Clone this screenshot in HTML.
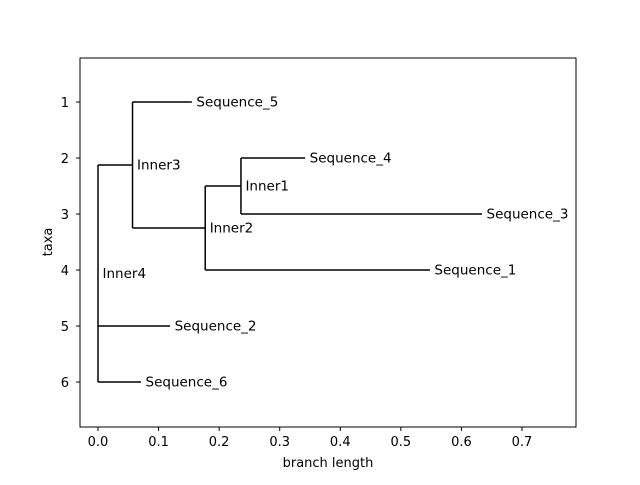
<!DOCTYPE html>
<html><head><meta charset="utf-8"><style>
body{margin:0;background:#fff}
svg{font-family:"DejaVu Sans","Liberation Sans",sans-serif}
</style></head><body>
<svg id="chart" width="640" height="480">
<rect x="0" y="0" width="640" height="480" fill="#fff"/>
<g id="plot"></g>
<rect x="80" y="58" width="496" height="369" fill="none" stroke="#000" stroke-width="1"/>
<g id="axes"></g>
<text x="328" y="467" font-size="13" text-anchor="middle">branch length</text>
<text x="52" y="242" font-size="13" text-anchor="middle" transform="rotate(-90 52 242)">taxa</text>
</svg>
<script>
// Tree data: names, parent index, branch lengths
const nodeNames = ["Inner4","Inner3","Sequence_2","Sequence_6","Sequence_5","Inner2","Inner1","Sequence_1","Sequence_4","Sequence_3"];
const nodeParents = [-1,0,0,0,1,1,5,5,6,6];
const branchLengths = [0,0.057,0.119,0.071,0.098,0.12,0.059,0.371,0.106,0.398];
const leafOrder = ["Sequence_5","Sequence_4","Sequence_3","Sequence_1","Sequence_2","Sequence_6"];
const xTicks = [0,0.1,0.2,0.3,0.4,0.5,0.6,0.7];
const yTicks = [1,2,3,4,5,6];

const NS="http://www.w3.org/2000/svg";
const xs = v => 98 + v*605.7;
const ys = v => 46 + v*56;
const n = nodeNames.length;
const depth = new Array(n).fill(0), yv = new Array(n).fill(0);
const kids = nodeNames.map(()=>[]);
for (let i=0;i<n;i++){ if(nodeParents[i]>=0) kids[nodeParents[i]].push(i); }
function setDepth(i,d){ depth[i]=d+branchLengths[i]; kids[i].forEach(c=>setDepth(c,depth[i])); }
setDepth(0,0);
function setY(i){
  if(!kids[i].length){ yv[i]=leafOrder.indexOf(nodeNames[i])+1; return; }
  kids[i].forEach(setY);
  const ys2=kids[i].map(c=>yv[c]);
  yv[i]=(Math.min(...ys2)+Math.max(...ys2))/2;
}
setY(0);
const plot=document.getElementById('plot');
function line(x1,y1,x2,y2,name){
  const l=document.createElementNS(NS,'line');
  l.setAttribute('x1',x1);l.setAttribute('y1',y1);l.setAttribute('x2',x2);l.setAttribute('y2',y2);
  l.setAttribute('stroke','#000');l.setAttribute('stroke-width','1.5');
  
  
  plot.appendChild(l);
}
for(let i=0;i<n;i++){
  const p=nodeParents[i];
  const px = p>=0?depth[p]:0;
  line(xs(px),ys(yv[i]),xs(depth[i]),ys(yv[i]),'branch-'+nodeNames[i].toLowerCase());
  if(kids[i].length){
    const ys2=kids[i].map(c=>yv[c]);
    line(xs(depth[i]),ys(Math.min(...ys2)),xs(depth[i]),ys(Math.max(...ys2)),'clade-connector-'+nodeNames[i].toLowerCase());
  }
  const t=document.createElementNS(NS,'text');
  t.setAttribute('x',xs(depth[i])+4.5);t.setAttribute('y',ys(yv[i])+4.5);
  t.setAttribute('font-size','13.5');
  t.textContent=nodeNames[i];
  
  
  plot.appendChild(t);
}
const axes=document.getElementById('axes');
xTicks.forEach(v=>{
  const l=document.createElementNS(NS,'line');
  l.setAttribute('x1',xs(v));l.setAttribute('x2',xs(v));l.setAttribute('y1',427);l.setAttribute('y2',431);l.setAttribute('stroke','#000');
  
  
  axes.appendChild(l);
  const t=document.createElementNS(NS,'text');
  t.setAttribute('x',xs(v));t.setAttribute('y',446);t.setAttribute('font-size','13');t.setAttribute('text-anchor','middle');
  t.textContent=v.toFixed(1);
  
  
  axes.appendChild(t);
});
yTicks.forEach(v=>{
  const l=document.createElementNS(NS,'line');
  l.setAttribute('x1',76);l.setAttribute('x2',80);l.setAttribute('y1',ys(v));l.setAttribute('y2',ys(v));l.setAttribute('stroke','#000');
  
  
  axes.appendChild(l);
  const t=document.createElementNS(NS,'text');
  t.setAttribute('x',69);t.setAttribute('y',ys(v)+5);t.setAttribute('font-size','13');t.setAttribute('text-anchor','end');
  t.textContent=v;
  
  
  axes.appendChild(t);
});
</script>
</body></html>
